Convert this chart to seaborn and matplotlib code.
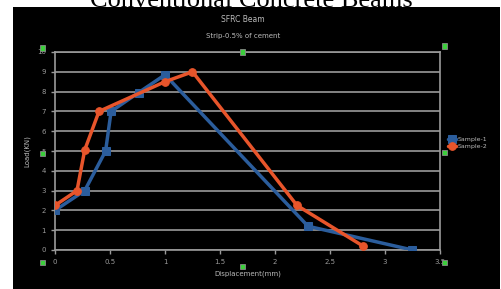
import pandas as pd
import matplotlib.pyplot as plt
import seaborn as sns
from matplotlib.patches import Rectangle

# values
sample1_disp = [0, 0.27, 0.46, 0.51, 0.76, 1.0, 2.3, 3.25]
sample1_load = [2.0, 3.0, 5.0, 7.0, 7.95, 8.85, 1.2, 0.0]
sample2_disp = [0, 0.2, 0.27, 0.4, 1.0, 1.25, 2.2, 2.8]
sample2_load = [2.25, 3.0, 5.05, 7.0, 8.5, 9.0, 2.25, 0.2]
series_names = ["Sample-1", "Sample-2"]
x_ticks = [0, 0.5, 1, 1.5, 2, 2.5, 3, 3.5]
y_ticks = list(range(0, 11))


def plot_chart():
    df = pd.concat([
        pd.DataFrame({"disp": sample1_disp, "load": sample1_load, "series": series_names[0]}),
        pd.DataFrame({"disp": sample2_disp, "load": sample2_load, "series": series_names[1]}),
    ])

    sns.set_style("dark")
    fig = plt.figure(figsize=(5.02, 2.89), dpi=100, facecolor="white")

    # black chart background
    fig.patches.append(Rectangle((13 / 502, 0), 487 / 502, 1 - 7 / 289,
                                 transform=fig.transFigure, facecolor="black",
                                 edgecolor="none", zorder=-5))

    fig.text(0.5, 1 - 7 / 289, "Conventional Concrete Beams", ha="center", va="baseline",
             fontsize=19, family="Liberation Serif", color="black", zorder=-4)

    ax = fig.add_axes([55 / 502, 1 - 250 / 289, 385 / 502, 198 / 289])
    ax.set_facecolor("black")

    colors = {"Sample-1": "#2B5D9C", "Sample-2": "#E8552B"}
    sns.lineplot(data=df, x="disp", y="load", hue="series", style="series",
                 palette=colors, markers={"Sample-1": "s", "Sample-2": "o"},
                 dashes=False, sort=False, estimator=None, linewidth=2.5,
                 markersize=5.5, ax=ax, zorder=3)
    for line in ax.lines:
        line.set_markeredgecolor(line.get_color())

    ax.set_xlim(0, 3.5)
    ax.set_ylim(0, 10)
    ax.set_xticks(x_ticks)
    ax.set_xticklabels(["0", "0.5", "1", "1.5", "2", "2.5", "3", "3.5"])
    ax.set_yticks(y_ticks)
    ax.grid(axis="y", color="#9a9a9a", linewidth=1.2)
    ax.grid(axis="x", visible=False)
    for s in ax.spines.values():
        s.set_visible(True)
        s.set_color("#9a9a9a")
        s.set_linewidth(1.2)
    ax.tick_params(colors="#9a9a9a", labelsize=5, length=3, width=1, bottom=True, left=True)

    ax.set_xlabel("Displacement(mm)", color="#bbbbbb", fontsize=5, labelpad=4)
    ax.set_ylabel("Load(KN)", color="#bbbbbb", fontsize=5, labelpad=5)

    fig.text(243 / 502, 1 - 20 / 289, "SFRC Beam", ha="center", va="center",
             color="#bbbbbb", fontsize=5.5)
    fig.text(243 / 502, 1 - 36 / 289, "Strip-0.5% of cement", ha="center", va="center",
             color="#bbbbbb", fontsize=5)

    leg = ax.legend(loc="center left", bbox_to_anchor=(1.01, 0.54), frameon=False,
                    fontsize=4.5, handlelength=1.2, borderaxespad=0.3,
                    labelspacing=0.2, handletextpad=0.3)
    for t in leg.get_texts():
        t.set_color("#bbbbbb")

    # green selection handles of the chart
    for hx, hy in [(43, 48), (243, 52), (445, 46), (43, 153), (445, 152),
                   (43, 262), (243, 266), (445, 262)]:
        fig.patches.append(Rectangle(((hx - 2.5) / 502, 1 - (hy + 2.5) / 289), 5 / 502, 5 / 289,
                                     transform=fig.transFigure, facecolor="#3ccf3c",
                                     edgecolor="#888888", linewidth=0.6, zorder=5))

    fig.savefig("out.png", dpi=100, facecolor="white")


if __name__ == "__main__":
    plot_chart()
